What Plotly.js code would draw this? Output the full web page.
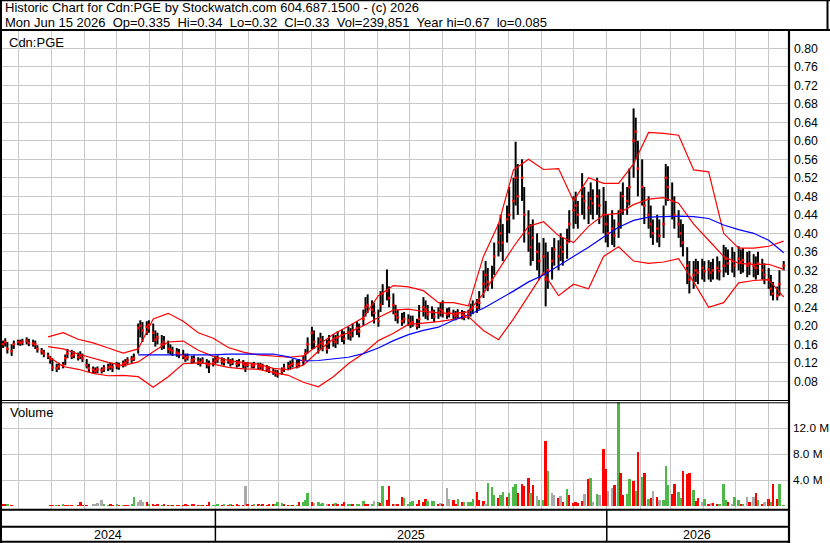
<!DOCTYPE html>
<html><head><meta charset="utf-8">
<script src="https://cdn.plot.ly/plotly-3.0.1.min.js"></script>
<style>html,body{margin:0;padding:0;background:#fff}#chart{width:830px;height:543px}</style>
</head><body><div id="chart"></div>
<script>
// ---------------- data ----------------
const START_DATE = '2024-06-17';   // first bar
const STEP_BIZ_DAYS = 2;           // each bar = 2 trading days

const closes = [
 .160,.165,.150,.145,.160,.165,.163,.165,.168,.163,
 .162,.160,.150,.145,.140,.135,.128,.110,.108,.112,
 .115,.130,.140,.135,.138,.132,.135,.130,.115,.108,
 .105,.102,.106,.104,.108,.110,.112,.110,.115,.112,
 .118,.120,.125,.128,.130,.195,.200,.190,.198,.202,
 .185,.170,.175,.160,.165,.150,.148,.145,.142,.140,
 .135,.130,.132,.125,.128,.122,.120,.125,.118,.115,
 .120,.125,.128,.124,.122,.125,.120,.122,.118,.120,
 .118,.115,.116,.114,.115,.112,.113,.110,.108,.105,
 .100,.098,.095,.102,.108,.112,.115,.118,.116,.118,
 .125,.140,.160,.185,.165,.155,.170,.160,.150,.165,
 .170,.165,.175,.180,.172,.185,.180,.190,.195,.188,
 .215,.240,.245,.235,.228,.210,.245,.270,.275,.260,
 .245,.225,.218,.210,.215,.212,.205,.208,.200,.215,
 .240,.235,.225,.230,.220,.228,.235,.232,.225,.228,
 .225,.222,.226,.224,.222,.225,.235,.238,.240,.250,
 .290,.310,.295,.300,.350,.380,.400,.380,.430,.440,
 .470,.520,.480,.520,.440,.400,.370,.390,.360,.340,
 .350,.300,.320,.340,.365,.350,.370,.360,.380,.420,
 .450,.460,.440,.480,.470,.455,.475,.465,.480,.460,
 .440,.420,.400,.410,.395,.420,.450,.480,.470,.500,
 .600,.620,.540,.500,.460,.440,.420,.400,.410,.395,
 .420,.520,.500,.470,.440,.420,.400,.380,.330,.300,
 .310,.320,.315,.325,.318,.322,.315,.320,.325,.318,
 .330,.345,.335,.340,.330,.345,.338,.342,.330,.335,
 .330,.325,.335,.320,.310,.300,.280,.270,.265,.290,.330
];
const highs = [
 .168,.173,.165,.160,.168,.170,.170,.172,.175,.172,
 .170,.168,.158,.152,.148,.142,.135,.130,.118,.120,
 .122,.138,.150,.148,.145,.142,.145,.140,.128,.118,
 .112,.110,.112,.110,.115,.118,.120,.118,.122,.120,
 .125,.128,.132,.135,.140,.205,.212,.208,.210,.212,
 .205,.190,.185,.180,.178,.168,.160,.155,.152,.150,
 .148,.140,.140,.135,.136,.132,.130,.132,.128,.125,
 .130,.135,.136,.132,.130,.132,.128,.130,.126,.128,
 .126,.122,.122,.120,.122,.120,.120,.118,.115,.112,
 .108,.105,.104,.110,.118,.122,.125,.128,.126,.128,
 .135,.150,.175,.198,.190,.175,.185,.178,.170,.180,
 .182,.180,.188,.192,.188,.198,.195,.205,.210,.205,
 .235,.262,.268,.255,.250,.235,.275,.290,.322,.285,
 .270,.245,.235,.228,.230,.225,.222,.222,.215,.245,
 .262,.255,.245,.242,.235,.240,.250,.255,.238,.240,
 .235,.232,.236,.234,.232,.235,.248,.255,.258,.275,
 .320,.340,.325,.330,.380,.420,.440,.420,.460,.500,
 .520,.598,.550,.560,.500,.450,.420,.430,.400,.380,
 .390,.380,.360,.370,.390,.385,.400,.390,.410,.450,
 .480,.490,.470,.530,.500,.490,.510,.495,.520,.495,
 .500,.470,.440,.450,.430,.450,.490,.510,.500,.540,
 .670,.650,.600,.560,.500,.480,.460,.430,.440,.430,
 .460,.550,.545,.510,.480,.450,.430,.420,.370,.340,
 .340,.345,.340,.345,.340,.342,.338,.345,.350,.340,
 .375,.370,.365,.370,.360,.372,.365,.368,.360,.362,
 .355,.350,.360,.345,.335,.325,.310,.295,.285,.320,.340
];
const lows = [
 .152,.155,.140,.135,.150,.158,.157,.158,.160,.156,
 .155,.150,.142,.138,.132,.128,.118,.102,.100,.105,
 .108,.115,.130,.128,.130,.125,.128,.122,.108,.100,
 .098,.096,.098,.097,.100,.102,.105,.100,.106,.105,
 .110,.112,.118,.120,.124,.140,.175,.165,.180,.185,
 .165,.155,.160,.148,.150,.140,.138,.135,.133,.130,
 .128,.122,.125,.118,.120,.115,.112,.118,.108,.098,
 .112,.118,.120,.116,.114,.118,.112,.115,.110,.112,
 .108,.100,.110,.108,.108,.106,.106,.104,.100,.098,
 .094,.090,.088,.094,.100,.104,.106,.110,.108,.110,
 .115,.125,.140,.150,.150,.140,.150,.145,.140,.150,
 .155,.152,.160,.165,.160,.170,.168,.175,.180,.175,
 .200,.220,.228,.220,.205,.198,.230,.245,.255,.240,
 .225,.210,.205,.200,.205,.200,.195,.198,.192,.195,
 .220,.215,.212,.215,.208,.215,.220,.218,.215,.218,
 .215,.212,.215,.214,.212,.214,.220,.225,.228,.235,
 .260,.280,.275,.280,.310,.350,.360,.340,.380,.400,
 .430,.460,.440,.470,.380,.360,.330,.340,.320,.300,
 .310,.242,.280,.300,.330,.320,.340,.330,.345,.380,
 .410,.420,.410,.440,.430,.420,.440,.430,.440,.420,
 .400,.380,.370,.375,.370,.390,.410,.440,.440,.460,
 .520,.560,.480,.460,.420,.410,.390,.375,.380,.370,
 .390,.460,.470,.430,.410,.390,.370,.350,.290,.270,
 .280,.295,.290,.300,.295,.300,.295,.300,.300,.298,
 .305,.315,.310,.315,.305,.320,.312,.315,.305,.310,
 .305,.300,.310,.300,.290,.280,.265,.255,.255,.265,.320
];
// volume in millions of shares
const volumesM = [
 0.3,0.4,0.4,0.15,0.1,0.1,0.1,0.1,0.1,0.1,
 0.1,0.1,0.1,0.1,0.1,0.1,0.2,0.25,0.2,0.15,
 0.35,0.2,0.15,0.15,0.1,0.2,0.7,0.2,0.15,0.1,
 0.3,0.3,0.45,0.9,0.35,0.2,0.3,0.15,0.3,0.2,
 0.2,0.15,0.2,0.3,1.4,0.6,0.9,0.6,0.6,0.4,
 0.3,0.2,0.35,0.2,0.3,0.25,0.2,0.15,0.2,0.15,
 0.2,0.3,0.2,0.3,0.3,0.2,0.2,0.15,0.15,0.6,
 0.2,0.15,0.3,0.2,0.3,0.25,0.35,0.2,0.3,0.2,
 0.2,3.2,0.3,0.2,0.3,0.35,0.25,0.3,0.2,0.3,
 0.4,0.3,0.7,0.5,0.3,0.2,0.2,0.15,0.2,0.6,
 0.6,0.9,2.1,0.6,0.5,0.6,0.4,0.5,0.35,0.4,
 0.3,0.55,0.35,0.3,0.7,0.4,0.3,0.35,0.3,0.4,
 0.8,0.3,0.4,0.35,0.75,0.6,0.5,3.2,0.9,3.2,
 0.4,0.3,0.4,1.5,1.3,0.3,0.7,0.8,0.3,1.0,
 0.6,1.1,0.8,0.8,0.8,0.3,0.5,0.4,2.8,1.1,
 1.0,0.3,1.2,0.7,0.6,0.6,0.6,1.1,2.2,1.0,
 0.8,0.3,3.6,3.0,1.7,1.3,1.7,2.2,1.4,2.0,
 2.9,3.4,2.1,3.4,3.2,4.4,2.1,3.3,1.6,0.9,
 0.9,10.0,5.4,2.0,1.7,1.3,1.6,0.6,2.7,1.7,
 0.5,0.6,0.5,0.8,1.9,4.2,4.4,0.7,1.9,1.8,
 8.8,5.7,2.3,2.8,3.3,16.0,5.1,1.7,1.9,4.2,
 3.9,2.3,8.4,4.5,5.1,1.1,1.3,2.4,1.4,1.0,
 0.9,6.2,3.3,1.9,3.4,2.2,1.3,5.4,5.0,5.1,
 2.5,0.8,1.3,0.7,1.1,0.3,0.5,0.5,0.3,0.4,
 3.4,0.9,0.6,0.4,1.5,0.9,0.4,0.3,1.5,0.6,
 1.5,2.1,0.9,0.3,0.7,1.1,0.6,3.4,1.1,3.4,0.24
];
// volume bar colour codes: g = up, r = down, n = unchanged
const volColorCodes = [
 'rrgrrgrrrr','rrrrrrrrgr','grrrgrrrrr','nnnnggrrgr','grrggnnnrg',
 'rrrgrrgrrr','rrrrrrgrrr','gggrgrgrrr','rnrrgrgrrr','rgggrrgrgr',
 'gggrngggnr','rgrrrggrgg','grrgngrgrr','rnrrggggrr','rrgggrnrnn',
 'rrgrggggrr','rngggrggrg','ggrrrrgrng','grgnnrnrgr','rrrrnrgngn',
 'rrnnrgrrgg','rgrgrgrnrn','gggrrggrrr','grrngrnrrg','ggrnggrgnr',
 'nrgrnrgrrgg'
].join('');

// Bollinger bands and moving average, sampled every BAND_STEP bars
const BAND_START = 15, BAND_STEP = 5;
const bbUpper = [0.176,0.185,0.171,0.163,0.152,0.141,0.150,0.215,0.227,0.210,
 0.185,0.173,0.153,0.143,0.137,0.134,0.132,0.135,0.158,0.182,
 0.199,0.218,0.265,0.287,0.284,0.276,0.250,0.250,0.243,0.350,
 0.420,0.537,0.560,0.538,0.540,0.470,0.520,0.508,0.508,0.550,
 0.618,0.616,0.612,0.537,0.533,0.400,0.368,0.368,0.372,0.383];
const bbMiddle = [0.155,0.150,0.139,0.130,0.121,0.114,0.122,0.144,0.165,0.167,
 0.147,0.134,0.125,0.121,0.117,0.108,0.105,0.115,0.145,0.172,
 0.185,0.200,0.218,0.234,0.236,0.231,0.228,0.227,0.230,0.270,
 0.322,0.371,0.415,0.425,0.395,0.380,0.415,0.440,0.443,0.462,
 0.474,0.477,0.465,0.420,0.385,0.350,0.335,0.333,0.333,0.322];
const bbLower = [0.134,0.112,0.106,0.097,0.092,0.093,0.090,0.067,0.090,0.118,
 0.120,0.117,0.110,0.107,0.106,0.099,0.093,0.078,0.068,0.090,
 0.118,0.140,0.168,0.184,0.203,0.206,0.209,0.214,0.220,0.190,
 0.170,0.215,0.265,0.315,0.265,0.290,0.280,0.350,0.371,0.340,
 0.335,0.338,0.345,0.295,0.240,0.250,0.293,0.298,0.300,0.262];
const MA_START = 45;
const maLine = [0.137,0.137,0.137,0.137,0.137,0.137,0.139,0.139,0.139,0.139,
 0.133,0.124,0.125,0.128,0.132,0.140,0.152,0.168,0.181,0.190,
 0.197,0.212,0.224,0.238,0.256,0.275,0.295,0.310,0.330,0.350,
 0.370,0.392,0.413,0.428,0.435,0.436,0.437,0.436,0.432,0.418,
 0.408,0.400,0.385,0.358];

const priceTicks = [0.08,0.12,0.16,0.20,0.24,0.28,0.32,0.36,0.40,0.44,0.48,0.52,0.56,0.60,0.64,0.68,0.72,0.76,0.80];
const volTicks = [4,8,12];
const volTickLabels = ['4.0 M','8.0 M','12.0 M'];
const yearLabels = ['2024','2025','2026'];
const yearMidDates = ['2024-09-23','2025-07-02','2026-03-26'];
const yearBreaks = ['2025-01-01','2026-01-01'];
const headerLine1 = 'Historic Chart for Cdn:PGE by Stockwatch.com 604.687.1500 - (c) 2026';
const headerLine2 = ['Mon Jun 15 2026','Op=0.335','Hi=0.34','Lo=0.32','Cl=0.33','Vol=239,851','Year hi=0.67','lo=0.085'];
const symbolLabel = 'Cdn:PGE';
const volumeLabel = 'Volume';

// ---------------- build ----------------
function addBizDays(start, n){
  const d = new Date(start + 'T00:00:00Z'); let added = 0;
  while (added < n){ d.setUTCDate(d.getUTCDate() + 1); const w = d.getUTCDay(); if (w !== 0 && w !== 6) added++; }
  return d.toISOString().slice(0,10);
}
const dates = closes.map((_, i) => addBizDays(START_DATE, i * STEP_BIZ_DAYS));
const bx = [], by = [];
dates.forEach((d, i) => { bx.push(d, d, null); by.push(lows[i], highs[i], null); });
const bandDates = bbUpper.map((_, k) => dates[BAND_START + k * BAND_STEP]);
const maDates = maLine.map((_, k) => dates[MA_START + k * BAND_STEP]);
const colorMap = {g:'#4cb848', r:'#ff0000', n:'#a9a9a9'};
const volColors = volumesM.map((_, i) => colorMap[volColorCodes.charAt(i)] || '#a9a9a9');

const W = 830, H = 543;
const px = x => x / W, py = y => 1 - y / H;
const FONT = '"Liberation Sans", Arial, sans-serif';
const GRID = '#c8c8c8';

const traces = [
  {type:'scatter', mode:'lines', x:bx, y:by, xaxis:'x', yaxis:'y', line:{color:'#000', width:2}, hoverinfo:'skip'},
  {type:'scatter', mode:'lines', x:bandDates, y:bbUpper, xaxis:'x', yaxis:'y', line:{color:'#ff0000', width:1.2}, hoverinfo:'skip'},
  {type:'scatter', mode:'lines', x:bandDates, y:bbMiddle, xaxis:'x', yaxis:'y', line:{color:'#ff0000', width:1.2}, hoverinfo:'skip'},
  {type:'scatter', mode:'lines', x:bandDates, y:bbLower, xaxis:'x', yaxis:'y', line:{color:'#ff0000', width:1.2}, hoverinfo:'skip'},
  {type:'scatter', mode:'lines', x:maDates, y:maLine, xaxis:'x', yaxis:'y', line:{color:'#0000ff', width:1.2}, hoverinfo:'skip'},
  {type:'scatter', mode:'markers', x:dates, y:closes, xaxis:'x', yaxis:'y', marker:{symbol:'square', size:2.5, color:'#ff0000', line:{width:0}}, hoverinfo:'skip'},
  {type:'bar', x:dates, y:volumesM, xaxis:'x', yaxis:'y2', marker:{color:volColors, line:{width:0}}, width:2.3*864e5, hoverinfo:'skip'}
];

function hline(y, x0, x1, w){ return {type:'line', xref:'paper', yref:'paper', x0:px(x0), x1:px(x1), y0:py(y), y1:py(y), line:{color:'#000', width:w}}; }
function vline(x, y0, y1, w){ return {type:'line', xref:'paper', yref:'paper', x0:px(x), x1:px(x), y0:py(y0), y1:py(y1), line:{color:'#000', width:w}}; }
const shapes = [
  hline(0.5, 0, 830, 1.5), hline(30, 0, 830, 2.2),
  vline(1, 0, 543, 2), vline(827.5, 0, 30, 2), vline(789, 30, 543, 2.2),
  hline(400.5, 2, 789, 1), hline(402.8, 2, 789, 1),
  hline(509.8, 0, 789, 2), hline(526.7, 0, 789, 2), hline(541.8, 0, 789, 2)
];
yearBreaks.forEach(d => shapes.push({type:'line', xref:'x', yref:'paper', x0:d, x1:d, y0:py(510), y1:py(542), line:{color:'#000', width:1.5}}));

const ann = (text, x, y, size, extra) => Object.assign({text, xref:'paper', yref:'paper', x:px(x), y:py(y), xanchor:'left', yanchor:'middle', showarrow:false, font:{family:FONT, size:size, color:'#000'}}, extra||{});
const annotations = [
  ann(headerLine1, 3, 8, 13),
  ann(headerLine2.join('\u00a0\u00a0'), 3, 22, 13),
  ann(symbolLabel, 7, 42, 13),
  ann(volumeLabel, 8, 413, 13)
];
yearLabels.forEach((t, k) => annotations.push({text:t, xref:'x', yref:'paper', x:yearMidDates[k], y:py(535), xanchor:'center', yanchor:'middle', showarrow:false, font:{family:FONT, size:12.5, color:'#000'}}));

const layout = {
  width:W, height:H, margin:{l:0, r:0, t:0, b:0}, paper_bgcolor:'#fff', plot_bgcolor:'#fff', showlegend:false,
  font:{family:FONT, size:12, color:'#000'}, bargap:0,
  xaxis:{type:'date', domain:[px(2), px(788)], range:['2024-06-16','2026-06-19'], anchor:'y2', showticklabels:false, ticks:'',
         tick0:'2024-07-01', dtick:'M1', showgrid:true, gridcolor:GRID, gridwidth:1, zeroline:false, showline:false, fixedrange:true},
  yaxis:{domain:[py(400), py(31)], range:[0.0396, 0.8374], side:'right', anchor:'x', tickmode:'array', tickvals:priceTicks,
         ticktext:priceTicks.map(v => v.toFixed(2)), showgrid:true, gridcolor:GRID, gridwidth:1, zeroline:false, showline:false,
         ticks:'', ticklabelstandoff:5, tickfont:{family:FONT, size:12.3, color:'#000'}, fixedrange:true},
  yaxis2:{domain:[py(509), py(402)], range:[-0.415, 16.05], side:'right', anchor:'x', tickmode:'array', tickvals:volTicks,
         ticktext:volTickLabels, showgrid:true, gridcolor:GRID, gridwidth:1, zeroline:false, showline:false,
         ticks:'', ticklabelstandoff:4, tickfont:{family:FONT, size:11.8, color:'#000'}, fixedrange:true},
  shapes, annotations
};
Plotly.newPlot('chart', traces, layout, {staticPlot:true, displayModeBar:false});
</script></body></html>
